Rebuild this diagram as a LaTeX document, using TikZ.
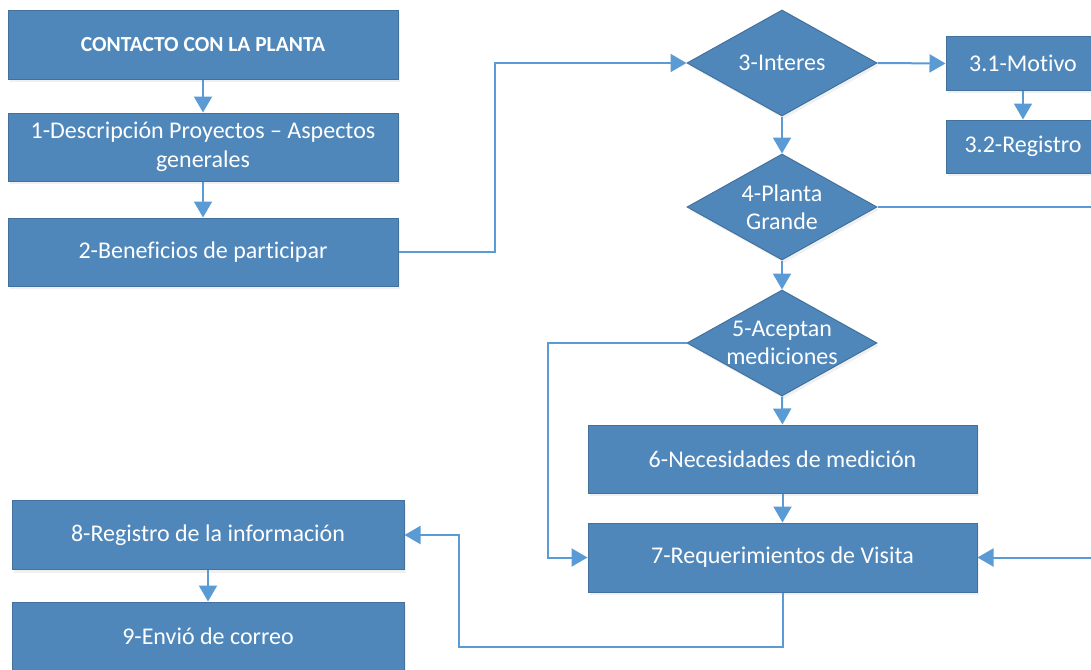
\documentclass[tikz,border=0pt]{standalone}
\usepackage{fontspec}
\setmainfont{Carlito}[Ligatures={TeX,NoCommon}]
\usetikzlibrary{shapes.geometric,arrows.meta,shadows}
\definecolor{boxfill}{HTML}{4F87BB}
\definecolor{boxline}{HTML}{41719C}
\definecolor{conncol}{HTML}{5B9BD5}
\begin{document}
\begin{tikzpicture}[x=1pt,y=-1pt,
  proc/.style={rectangle, draw=boxline, line width=1pt, fill=boxfill, text=white,
    align=center, inner sep=2pt, font=\fontsize{24}{29}\selectfont,
    drop shadow={opacity=0.12, shadow xshift=2pt, shadow yshift=-3pt}},
  decision/.style={diamond, draw=boxline, line width=1pt, fill=boxfill,
    inner sep=0pt, minimum width=190, minimum height=106,
    drop shadow={opacity=0.12, shadow xshift=2pt, shadow yshift=-3pt}},
  dtext/.style={text=white, align=center, font=\fontsize{24}{28}\selectfont},
  conn/.style={draw=conncol, line width=2pt, -{Triangle[length=16pt,width=18pt]}}
]
\useasboundingbox (0,0) rectangle (1091,669);
\clip (0,0) rectangle (1091,669);

% left column
\node[proc, minimum width=390, minimum height=68, font=\bfseries\fontsize{21.5}{24}\selectfont] (c0) at (203,45) {CONTACTO CON LA PLANTA};
\node[proc, minimum width=390, minimum height=68] (d1) at (203,147) {1-Descripción Proyectos – Aspectos\\generales};
\node[proc, minimum width=390, minimum height=68] (d2) at (203,252) {2-Beneficios de participar};

% decisions
\node[decision, label={[dtext]center:3-Interes}] (i3) at (782,63) {};
\node[decision, label={[dtext]center:4-Planta\\Grande}] (i4) at (782,207) {};
\node[decision, label={[dtext]center:5-Aceptan\\mediciones}] (i5) at (782,343) {};

% right
\node[proc, minimum width=154, minimum height=53] (m31) at (1023,63.5) {3.1-Motivo};
\node[proc, minimum width=154, minimum height=53] (m32) at (1023,146.5) {3.2-Registro};

\node[proc, minimum width=389, minimum height=68] (n6) at (782.5,459) {6-Necesidades de medición};
\node[proc, minimum width=389, minimum height=69] (n7) at (782.5,557.5) {7-Requerimientos de Visita};

\node[proc, minimum width=392, minimum height=69] (n8) at (208,535) {8-Registro de la información};
\node[proc, minimum width=392, minimum height=68] (n9) at (208,636) {9-Envió de correo};

% junctions
\coordinate (j1) at (495,0);
\coordinate (jr) at (1110,0);
\coordinate (jl) at (548,0);
\coordinate (jb) at (459,647);

% connectors
\draw[conn] (c0.south) -- (d1.north);
\draw[conn] (d1.south) -- (d2.north);
\draw[conn] (d2.east) -- (d2.east -| j1) |- (i3.west);
\draw[conn] (i3.east) -- (m31.west);
\draw[conn] (m31.south) -- (m32.north);
\draw[conn] (i3.south) -- (i4.north);
\draw[conn] (i4.east) -- (i4.east -| jr) |- (n7.east);
\draw[conn] (i4.south) -- (i5.north);
\draw[conn] (i5.west) -- (i5.west -| jl) |- (n7.west);
\draw[conn] (i5.south) -- (n6.north);
\draw[conn] (n6.south) -- (n7.north);
\draw[conn] (n7.south) |- (jb) |- (n8.east);
\draw[conn] (n8.south) -- (n9.north);
\end{tikzpicture}
\end{document}
